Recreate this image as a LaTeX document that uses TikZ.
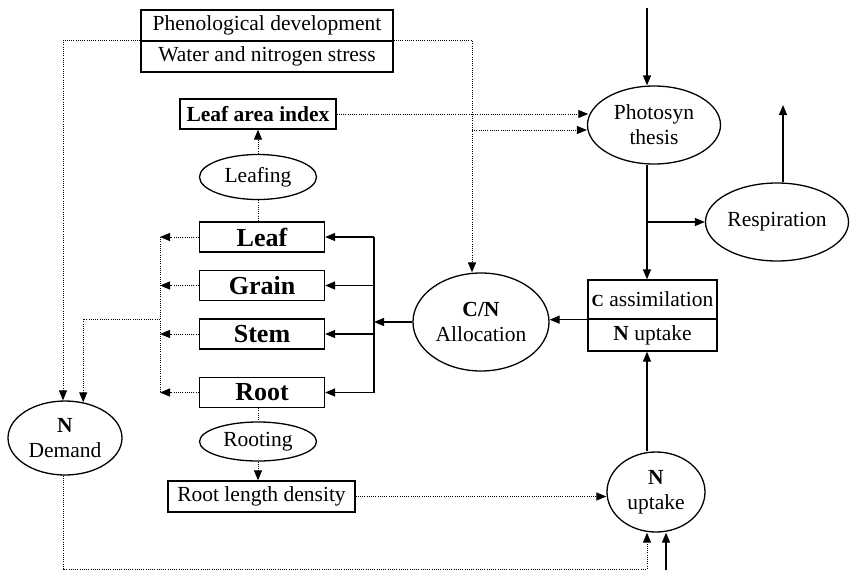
\documentclass[tikz,border=0pt]{standalone}
\usepackage{fontspec}
\setmainfont{Liberation Serif}
\usetikzlibrary{shapes.geometric,arrows.meta}

\begin{document}
\begin{tikzpicture}[x=1pt,y=-1pt,
  font=\fontsize{21.5}{25}\selectfont,
  box/.style={draw,line width=1.3pt,inner sep=0pt},
  organ/.style={box,minimum width=125pt,minimum height=30pt,font=\fontsize{26}{28}\selectfont\bfseries},
  oval/.style={draw,ellipse,line width=1.3pt,inner sep=0pt,align=center},
  flow/.style={line width=1.3pt,-{Triangle[length=10pt,width=8pt]}},
  info/.style={line width=1pt,dash pattern=on 1pt off 1.2pt},
  infoarrow/.style={info,-{Triangle[length=10pt,width=8pt]}}]
\useasboundingbox (0,0) rectangle (851,573);

\node[box,minimum width=252pt,minimum height=31pt] (phen) at (267,25.5) {Phenological development};
\node[box,minimum width=252pt,minimum height=31pt] (stress) at (267,56.5) {Water and nitrogen stress};
\node[box,minimum width=156pt,minimum height=30pt,font=\fontsize{21.5}{25}\selectfont\bfseries] (lai) at (258,114) {Leaf area index};
\node[oval,minimum width=117pt,minimum height=45pt] (leafing) at (258,177) {Leafing};
\node[organ] (leaf) at (262,237) {Leaf};
\node[organ] (grain) at (262,285.5) {Grain};
\node[organ] (stem) at (262,334) {Stem};
\node[organ] (root) at (262,392.5) {Root};
\node[oval,minimum width=117pt,minimum height=39pt] (rooting) at (258,441.5) {Rooting};
\node[box,minimum width=187pt,minimum height=31pt] (rld) at (261.5,496.5) {Root length density};
\node[oval,minimum width=114pt,minimum height=74pt] (ndem) at (65,438) {\textbf{N}\\Demand};
\node[oval,minimum width=136pt,minimum height=98pt] (cn) at (481,322) {\textbf{C/N}\\Allocation};
\node[oval,minimum width=133pt,minimum height=78pt] (photo) at (654,125) {Photosyn\\thesis};
\node[oval,minimum width=143pt,minimum height=78pt] (resp) at (777,222) {Respiration};
\node[box,minimum width=129pt,minimum height=39pt] (assimc) at (652.5,299.5) {{\fontsize{17}{17}\selectfont\bfseries C} assimilation};
\node[box,minimum width=129pt,minimum height=32pt] (assimn) at (652.5,335) {\textbf{N} uptake};
\node[oval,minimum width=98pt,minimum height=80pt] (nup) at (656,492) {\textbf{N}\\uptake};

\coordinate (j1) at (472,130);
\coordinate (lbus) at (160,319);
\coordinate (rbus) at (374,320);
\coordinate (sun) at (647,8);
\coordinate (branch) at (647,222);
\coordinate (co2) at (783,105);
\coordinate (soil) at (666,570);
\coordinate (ncorner) at (647,569);

\draw[infoarrow] (stress.north west) -| ([xshift=-2pt]ndem.north);
\draw[infoarrow] (stress.north east) -| ([xshift=-9pt]cn.north);
\draw[infoarrow] (lai.east) -- (lai.east -| photo.173);
\draw[infoarrow] (j1) -- (j1 -| photo.west);
\draw[infoarrow] (leafing.north) -- (lai.south);
\draw[info] (leafing.south) -- (leafing.south |- leaf.north);
\draw[info] (rooting.north |- root.south) -- (rooting.north);
\draw[infoarrow] (rooting.south) -- (rooting.south |- rld.north);
\foreach \n in {leaf,grain,stem,root}
  \draw[infoarrow] (\n.west) -- (\n.west -| lbus);
\draw[info] (leaf.west -| lbus) -- (root.west -| lbus);
\draw[infoarrow] (lbus) -| (ndem.63);
\draw[infoarrow] (rld.east) -- (rld.east -| nup.west);
\draw[infoarrow] ([xshift=-2pt]ndem.south) |- (ncorner) -- (ncorner |- nup.south);

\draw[flow] (cn.west) -- (cn.west -| rbus);
\draw[line width=1.3pt] (leaf.east -| rbus) -- (root.east -| rbus);
\foreach \n in {leaf,grain,stem,root}
  \draw[flow] (\n.east -| rbus) -- (\n.east);
\draw[flow] (sun) -- (sun |- photo.north);
\draw[flow] (sun |- photo.south) -- (sun |- assimc.north);
\draw[flow] (branch) -- (resp.west);
\draw[flow] (resp.north -| co2) -- (co2);
\draw[flow] (sun |- nup.north) -- (sun |- assimn.south);
\draw[flow] (soil) -- (soil |- nup.south);
\draw[flow] (assimc.south west) -- (assimc.south west -| cn.east);
\end{tikzpicture}
\end{document}
